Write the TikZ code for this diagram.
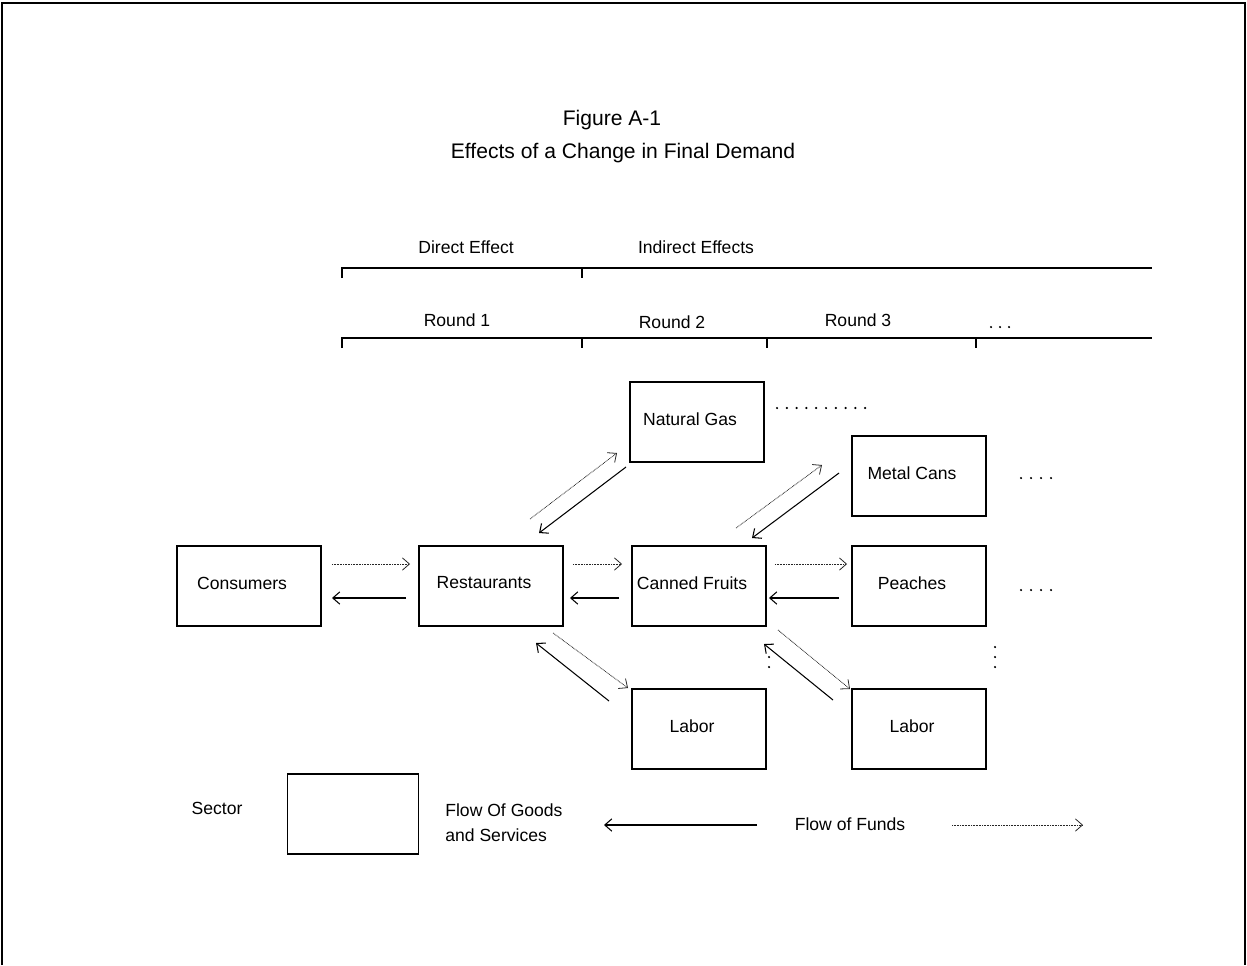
\documentclass[tikz,border=0pt]{standalone}
\usepackage{fontspec}
\setmainfont{Liberation Sans}
\usetikzlibrary{arrows.meta}

\tikzset{
  lbl/.style={inner sep=0pt,font=\fontsize{10}{12}\selectfont},
  sector/.style={draw,line width=0.65pt,outer sep=0pt,inner sep=0pt,minimum width=2.68cm,minimum height=1.6cm},
  box/.style={sector,label={[lbl,xshift=-0.14cm,yshift=0.06cm]center:#1}},
  goodsflow/.style={-{Straight Barb[length=4pt,width=7pt]},line width=0.6pt},
  fundsflow/.style={-{Straight Barb[length=4pt,width=7pt]},line width=0.45pt,draw=black!85,dash pattern=on 0.45pt off 0.45pt}
}

\begin{document}
\begin{tikzpicture}[x=0.02cm,y=-0.02cm]
\useasboundingbox (0,0) rectangle (1247,965);
\draw[line width=1.1pt] (2,965) -- (2,3) -- (1245,3) -- (1245,965);

\node[font=\fontsize{12}{14}\selectfont] (fig) at (612,120) {Figure A-1};
\node[font=\fontsize{12}{14}\selectfont] (title) at (623,153) {Effects of a Change in Final Demand};

\node[lbl] (direct) at (466,247) {Direct Effect};
\node[lbl] (indirect) at (696,247) {Indirect Effects};
\draw[line width=0.6pt] (342,278) -- (342,268) -- (1152,268);
\draw[line width=0.6pt] (582,268) -- (582,278);

\node[lbl] (round1) at (457,320) {Round 1};
\node[lbl] (round2) at (672,322) {Round 2};
\node[lbl] (round3) at (858,320) {Round 3};
\foreach \x in {991,1000,1009} \fill (\x,327) circle (0.7pt);
\draw[line width=0.6pt] (342,348) -- (342,338) -- (1152,338);
\foreach \x in {582,767,976} \draw[line width=0.6pt] (\x,338) -- (\x,348);

\node[box=Consumers,minimum width=2.88cm] (cons) at (249,586) {};
\node[box=Restaurants,minimum width=2.88cm] (rest) at (491,586) {};
\node[box=Canned Fruits] (fruit) at (699,586) {};
\node[box=Peaches] (peach) at (919,586) {};
\node[box=Natural Gas] (gas) at (697,422) {};
\node[box=Metal Cans] (cans) at (919,476) {};
\node[box=Labor] (labA) at (699,729) {};
\node[box=Labor] (labB) at (919,729) {};

\draw[fundsflow] ([shift={(11,-22)}]cons.east) -- ([shift={(-9,-22)}]rest.west);
\draw[goodsflow] ([shift={(-13,12)}]rest.west) -- ([shift={(11,12)}]cons.east);
\draw[fundsflow] ([shift={(10,-22)}]rest.east) -- ([shift={(-10,-22)}]fruit.west);
\draw[goodsflow] ([shift={(-13,12)}]fruit.west) -- ([shift={(7,12)}]rest.east);
\draw[fundsflow] ([shift={(9,-22)}]fruit.east) -- ([shift={(-5,-22)}]peach.west);
\draw[goodsflow] ([shift={(-13,12)}]peach.west) -- ([shift={(3,12)}]fruit.east);
\draw[fundsflow] ([shift={(39,-27)}]rest.north) -- ([shift={(-13,-9)}]gas.south west);
\draw[goodsflow] ([shift={(-4,5)}]gas.south west) -- ([shift={(48,-13)}]rest.north);
\draw[fundsflow] ([shift={(37,-18)}]fruit.north) -- ([shift={(-30,-51)}]cans.south west);
\draw[goodsflow] ([shift={(-13,-3)}]cans.west) -- ([shift={(53,-8)}]fruit.north);
\draw[fundsflow] ([shift={(62,7)}]rest.south) -- ([shift={(-4,-1)}]labA.north west);
\draw[goodsflow] ([shift={(-23,-28)}]labA.west) -- ([shift={(45,17)}]rest.south);
\draw[fundsflow] ([shift={(12,4)}]fruit.south east) -- ([shift={(-2,0)}]labB.north west);
\draw[goodsflow] ([shift={(-19,-29)}]labB.west) -- ([shift={(-2,18)}]fruit.south east);

\foreach \i in {0,...,9} \fill (777+9.8*\i,408) circle (0.7pt);
\foreach \x in {1021,1031,1041,1051} {
  \fill (\x,478) circle (0.7pt);
  \fill (\x,590) circle (0.7pt);
}
\foreach \y in {647,657,667} \fill (995,\y) circle (0.7pt);
\foreach \y in {657,667} \fill (769,\y) circle (0.7pt);

\node[sector,minimum width=2.62cm] (key) at (353,814) {};
\node[lbl] (sec) at (217,808) {Sector};
\node[lbl,anchor=west,align=left,font=\fontsize{10}{14.2}\selectfont] (goods) at (445,823) {Flow Of Goods\\and Services};
\node[lbl] (funds) at (850,824) {Flow of Funds};
\coordinate (gA) at (757,825);
\coordinate (gB) at (604,825);
\coordinate (fA) at (952,825);
\coordinate (fB) at (1083,825);
\draw[goodsflow] (gA) -- (gB);
\draw[fundsflow] (fA) -- (fB);
\end{tikzpicture}
\end{document}
